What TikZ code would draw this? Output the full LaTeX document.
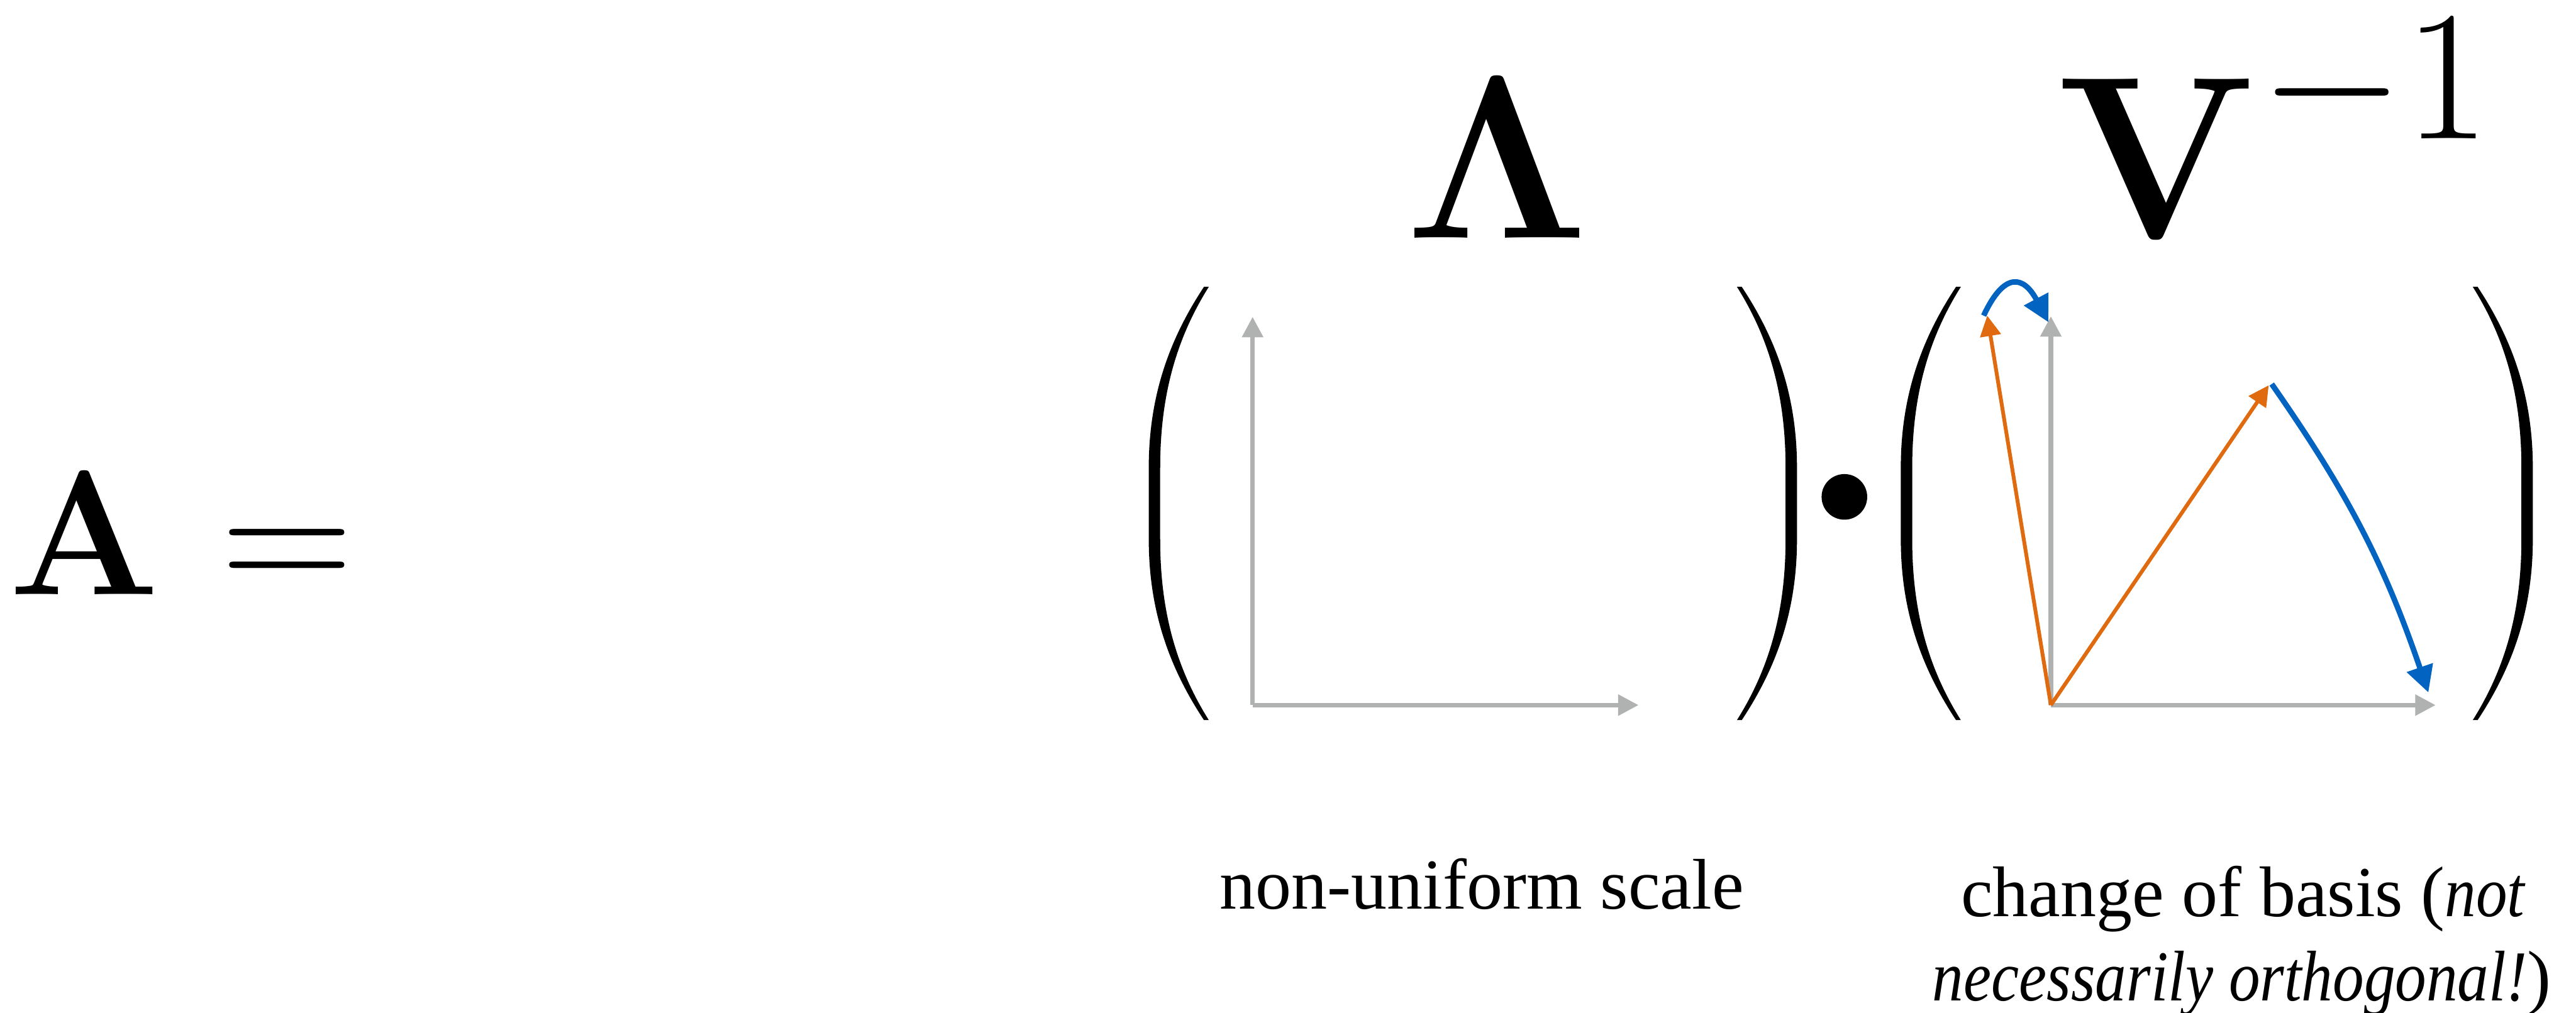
\RequirePackage{fix-cm}
\documentclass[tikz,border=0pt]{standalone}
\usepackage[no-math]{fontspec}
\setmainfont{Liberation Serif}[ItalicFeatures={FakeStretch=0.87}]
\usepackage{tikz}
\usetikzlibrary{arrows.meta}

\definecolor{axisgray}{RGB}{176,177,177}
\definecolor{eigorange}{RGB}{224,106,16}
\definecolor{rebaseblue}{RGB}{2,100,192}

\begin{document}
\begin{tikzpicture}[
        basisaxis/.style={line width=2.1pt, axisgray, -{Triangle[length=0.34cm, width=0.34cm]}},
        eigvec/.style={line width=1.8pt, eigorange, -{Triangle[length=0.34cm, width=0.34cm]}},
        rebase/.style={line width=2.6pt, rebaseblue, -{Triangle[length=0.44cm, width=0.44cm]}},
        bigmath/.style={anchor=base, inner sep=0pt, font=\fontsize{#1}{#1}\selectfont},
        caption/.style={anchor=base, inner sep=0pt, font=\fontsize{34}{40}\selectfont},
        paren/.pic={
            \fill (0.92,3.61) .. controls (0.35,2.75) and (0,1.8) .. (0,0.6) -- (0,-0.6)
                .. controls (0,-1.8) and (0.35,-2.75) .. (0.92,-3.61)
                -- (1.0,-3.61) .. controls (0.46,-2.75) and (0.19,-1.8) .. (0.19,-0.6)
                -- (0.19,0.6) .. controls (0.19,1.8) and (0.46,2.75) .. (1.0,3.61) -- cycle;
        },
    ]
        \useasboundingbox (0,0) rectangle (42.92,16.88);

        % Left-hand side
        \node[bigmath=84] (lhs) at (1.41,6.97) {$\mathbf{A}$};
        \node[bigmath=87] (eq) at (4.78,6.97) {$=$};

        % Factor names
        \node[bigmath=110] (lam) at (24.95,12.91) {$\mathbf{\Lambda}$};
        \node[bigmath=110] (vmat) at (35.95,12.91) {$\mathbf{V}$};
        \node[bigmath=88] (vexp) at (39.57,14.57) {$-1$};

        % Brackets & product dot
        \pic at (19.14,8.49) {paren};
        \pic[xscale=-1] at (29.94,8.49) {paren};
        \pic at (31.67,8.49) {paren};
        \pic[xscale=-1] at (42.20,8.49) {paren};
        \node[circle, fill, inner sep=0pt, minimum size=0.76cm] (dot) at (30.73,8.60) {};

        % Scale panel
        \coordinate (Lo) at (20.87,5.13);
        \coordinate (Lx) at (27.30,5.13);
        \coordinate (Ly) at (20.87,11.60);
        \draw[basisaxis] (Lo) -- (Lx);
        \draw[basisaxis] (Lo) -- (Ly);

        % Change-of-basis panel
        \coordinate (Ro) at (34.17,5.13);
        \coordinate (Rx) at (40.58,5.13);
        \coordinate (Ry) at (34.17,11.61);
        \coordinate (e1) at (33.11,11.62);
        \coordinate (e2) at (37.80,10.46);
        \coordinate (e1end) at (34.13,11.51);
        \coordinate (e2end) at (40.46,5.34);
        \draw[basisaxis] (Ro) -- (Rx);
        \draw[basisaxis] (Ro) -- (Ry);
        \draw[eigvec] (Ro) -- (e1);
        \draw[eigvec] (Ro) -- (e2);
        \draw[rebase] ([xshift=-0.06cm]e1) .. controls +(65:0.85) and +(118:0.85) .. (e1end);
        \draw[rebase] ([xshift=0.05cm, yshift=0.02cm]e2) to[bend left=8] (e2end);

        % Captions
        \node[caption] (scalelbl) at (24.69,1.73) {non-uniform scale};
        \node[caption] (basislbl) at (37.38,1.61) {change of basis (\textit{not}};
        \node[caption] (basislbltwo) at (37.35,0.20) {\textit{necessarily orthogonal!})};
\end{tikzpicture}
\end{document}
